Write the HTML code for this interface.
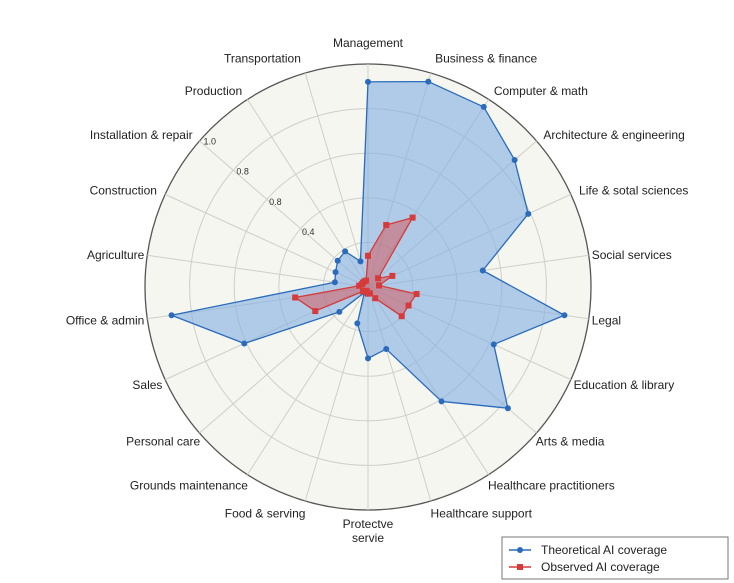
<!DOCTYPE html>
<html><head><meta charset="utf-8"><style>
html,body{margin:0;padding:0;background:#fff;}
svg{display:block;font-family:"Liberation Sans",sans-serif;}
</style></head><body>
<svg id="chart" width="734" height="583" viewBox="0 0 734 583" xmlns="http://www.w3.org/2000/svg">
<g id="grid"></g>
<g id="series"></g>
<g id="labels"></g>
<g>
<rect x="502" y="537" width="226" height="42" fill="#fff" stroke="#777" stroke-width="1"/>
<line x1="509" y1="550" x2="531" y2="550" stroke="#2a6bbb" stroke-width="1.5"/>
<circle cx="520" cy="550" r="3" fill="#2a6bbb"/>
<text x="541" y="554" font-size="12" fill="#222">Theoretical AI coverage</text>
<line x1="509" y1="567" x2="531" y2="567" stroke="#d63a3a" stroke-width="1.5"/>
<rect x="517" y="564" width="6" height="6" fill="#d63a3a"/>
<text x="541" y="571" font-size="12" fill="#222">Observed AI coverage</text>
</g>
</svg>
<script>
const categories = ["Management","Business & finance","Computer & math","Architecture & engineering","Life & sotal sciences","Social services","Legal","Education & library","Arts & media","Healthcare practitioners","Healthcare support","Protectve|servie","Food & serving","Grounds maintenance","Personal care","Sales","Office & admin","Agriculture","Construction","Installation & repair","Production","Transportation"];
const theoretical = [0.92,0.96,0.96,0.87,0.79,0.52,0.89,0.62,0.83,0.61,0.29,0.32,0.17,0.03,0.17,0.61,0.89,0.15,0.16,0.18,0.19,0.12];
const observed = [0.14,0.29,0.37,0.06,0.12,0.05,0.22,0.20,0.20,0.06,0.03,0.03,0.02,0.02,0.03,0.26,0.33,0.04,0.03,0.03,0.03,0.03];
const ringValues = [0.2,0.4,0.6,0.8,1.0];
const tickValues = [0.4,0.6,0.8,1.0];
const tickLabels = ["0.4","0.8","0.8","1.0"];

const NS="http://www.w3.org/2000/svg";
const cx=368, cy=287, R=223, N=categories.length;
function ang(i){return i*2*Math.PI/N;}
function pt(i,v){const a=ang(i);return [cx+R*v*Math.sin(a), cy-R*v*Math.cos(a)];}
function mk(tag,attrs,parent){const e=document.createElementNS(NS,tag);for(const k in attrs)e.setAttribute(k,attrs[k]);parent.appendChild(e);return e;}
const grid=document.getElementById('grid'), ser=document.getElementById('series'), lab=document.getElementById('labels');

const bg=mk('circle',{cx:cx,cy:cy,r:R,fill:'#f6f6f1'},grid);


ringValues.forEach(v=>{
  const c=mk('circle',{cx:cx,cy:cy,r:R*v,fill:'none',stroke:v===1?'#555':'#cfcfca','stroke-width':v===1?1.3:1},grid);
  
  
});
categories.forEach((c,i)=>{
  const p=pt(i,1);
  const l=mk('line',{x1:cx,y1:cy,x2:p[0],y2:p[1],stroke:'#cfcfca','stroke-width':1},grid);
  
  
});
tickValues.forEach((v,k)=>{
  const a=ang(19)+0.03, r=R*v-8;
  const t=mk('text',{x:cx+r*Math.sin(a),y:cy-r*Math.cos(a)+3,'font-size':9,fill:'#333','text-anchor':'middle'},grid);
  t.textContent=tickLabels[k];
  
  
});

function series(vals,fill,stroke,square,name){
  const pts=vals.map((v,i)=>pt(i,v));
  const poly=mk('polygon',{points:pts.map(p=>p.join(',')).join(' '),fill:fill,stroke:stroke,'stroke-width':1.3,'stroke-linejoin':'round'},ser);
  
  
  pts.forEach(p=>{
    let m;
    if(square) m=mk('rect',{x:p[0]-3,y:p[1]-3,width:6,height:6,fill:stroke},ser);
    else m=mk('circle',{cx:p[0],cy:p[1],r:3,fill:stroke},ser);
    
    
  });
}
series(theoretical,'rgba(130,175,225,0.6)','#2a6bbb',false,'theoretical');
series(observed,'rgba(220,70,70,0.45)','#d63a3a',true,'observed');

categories.forEach((c,i)=>{
  const a=ang(i), s=Math.sin(a), co=Math.cos(a);
  const r = co>0.3 ? 232+12*Math.pow(co,16) : 226;
  let x=cx+r*s, y=cy-r*co+4+(co<0?-co*10:0);
  if(co<-0.5 && Math.abs(s)>0.1) x -= s*4;
  let anchor=Math.abs(s)<0.1?'middle':(s>0?'start':'end');
  const t=mk('text',{x:x,y:y,'font-size':12,fill:'#222','text-anchor':anchor},lab);
  const parts=c.split('|');
  if(parts.length>1){
    t.setAttribute('y',cy+R+18);
    t.setAttribute('x',cx);
    parts.forEach((p,k)=>{const ts=mk('tspan',{x:cx,dy:k?14:0},t);ts.textContent=p;});
  } else t.textContent=c;
  
  
});
</script>
</body></html>
